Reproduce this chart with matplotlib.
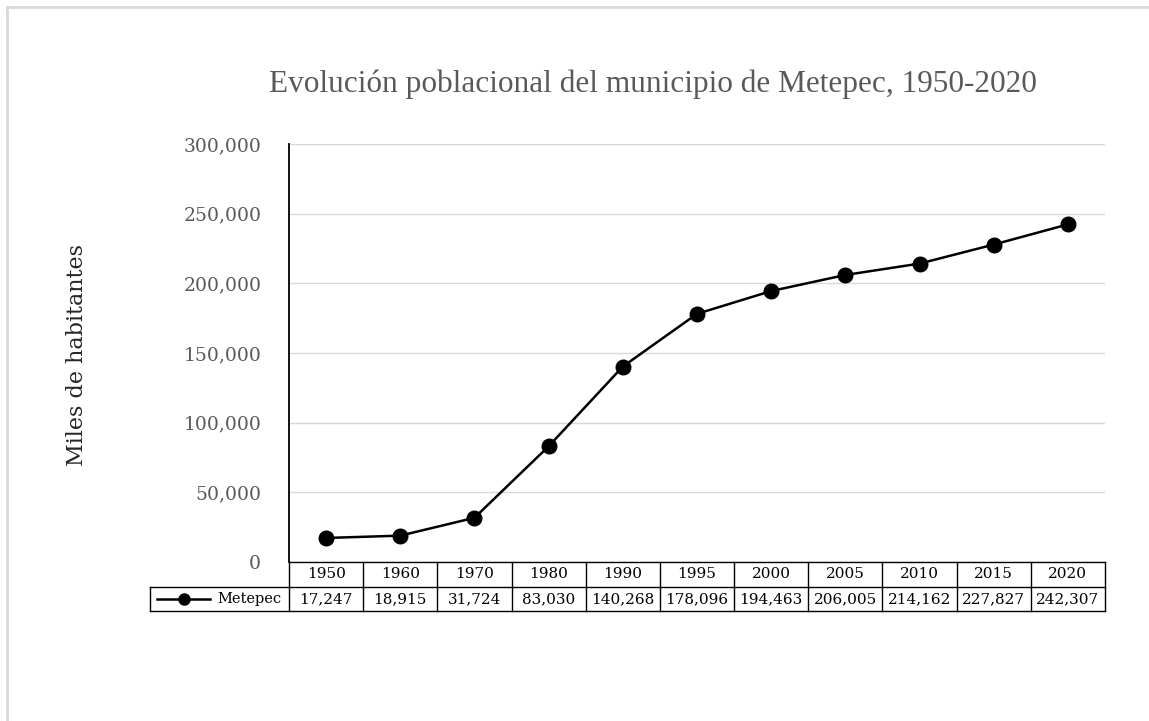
import matplotlib.pyplot as plt
from matplotlib.lines import Line2D
from matplotlib.transforms import blended_transform_factory

years = ["1950", "1960", "1970", "1980", "1990", "1995", "2000", "2005", "2010", "2015", "2020"]
poblacion = [17247, 18915, 31724, 83030, 140268, 178096, 194463, 206005, 214162, 227827, 242307]
serie = "Metepec"
yticks = [0, 50000, 100000, 150000, 200000, 250000, 300000]

W, H = 1149, 721
fig = plt.figure(figsize=(W / 100, H / 100), dpi=100)

# light outer frame (top and left only visible)
fig.add_artist(Line2D([7 / W, 7 / W], [0, 1 - 7 / H], color="#d9d9d9", lw=2, transform=fig.transFigure))
fig.add_artist(Line2D([7 / W, 1], [1 - 7 / H, 1 - 7 / H], color="#d9d9d9", lw=2, transform=fig.transFigure))

x0, x1, ytop, ybot = 289, 1105, 144, 562
ax = fig.add_axes([x0 / W, 1 - ybot / H, (x1 - x0) / W, (ybot - ytop) / H])

xs = list(range(len(years)))
ax.plot(xs, poblacion, color="black", lw=1.8, marker="o", markersize=10.5, zorder=3)

ax.set_xlim(-0.5, len(years) - 0.5)
ax.set_ylim(0, 300000)
ax.set_yticks(yticks)
ax.set_yticklabels([f"{v:,}" for v in yticks], fontsize=13.5, color="#595959", family="DejaVu Serif")
ax.tick_params(axis="y", length=0, pad=20)
ax.set_xticks([])
ax.grid(axis="y", color="#d9d9d9", lw=1)
ax.set_axisbelow(True)
for s in ["top", "right", "bottom"]:
    ax.spines[s].set_visible(False)
ax.spines["left"].set_linewidth(1.3)

# data table below the axes
tr = blended_transform_factory(ax.transData, ax.transAxes)
ph = ybot - ytop
r1 = -25 / ph
r2 = -49 / ph
colw = (x1 - x0) / len(years)
xleg = -0.5 - (x0 - 150) / colw
lk = dict(color="black", lw=1, transform=tr, clip_on=False)
n = len(years)
ax.add_line(Line2D([-0.5, n - 0.5], [0, 0], **lk))
ax.add_line(Line2D([xleg, n - 0.5], [r1, r1], **lk))
ax.add_line(Line2D([xleg, n - 0.5], [r2, r2], **lk))
ax.add_line(Line2D([xleg, xleg], [r1, r2], **lk))
for i in range(n + 1):
    ax.add_line(Line2D([i - 0.5, i - 0.5], [0, r2], **lk))

for i, (yr, v) in enumerate(zip(years, poblacion)):
    ax.text(i, r1 / 2, yr, transform=tr, ha="center", va="center", fontsize=11, family="DejaVu Serif")
    ax.text(i, (r1 + r2) / 2, f"{v:,}", transform=tr, ha="center", va="center", fontsize=11, family="DejaVu Serif")

# legend key in first cell
lx0 = xleg + 7 / colw
lx1 = xleg + 60 / colw
ym = (r1 + r2) / 2
ax.add_line(Line2D([lx0, lx1], [ym, ym], color="black", lw=1.8, transform=tr, clip_on=False))
ax.add_line(Line2D([(lx0 + lx1) / 2], [ym], color="black", marker="o", markersize=8, transform=tr, clip_on=False))
ax.text(xleg + 67 / colw, ym, serie, transform=tr, ha="left", va="center", fontsize=10.5, family="DejaVu Serif")

fig.text(653 / W, 1 - 84 / H, "Evolución poblacional del municipio de Metepec, 1950-2020",
         ha="center", va="center", fontsize=22.5, color="#595959", family="Liberation Serif")
fig.text(77 / W, 1 - 355 / H, "Miles de habitantes", rotation=90, ha="center", va="center",
         fontsize=16, color="#262626", family="DejaVu Serif")

fig.savefig("out.png", dpi=100)
